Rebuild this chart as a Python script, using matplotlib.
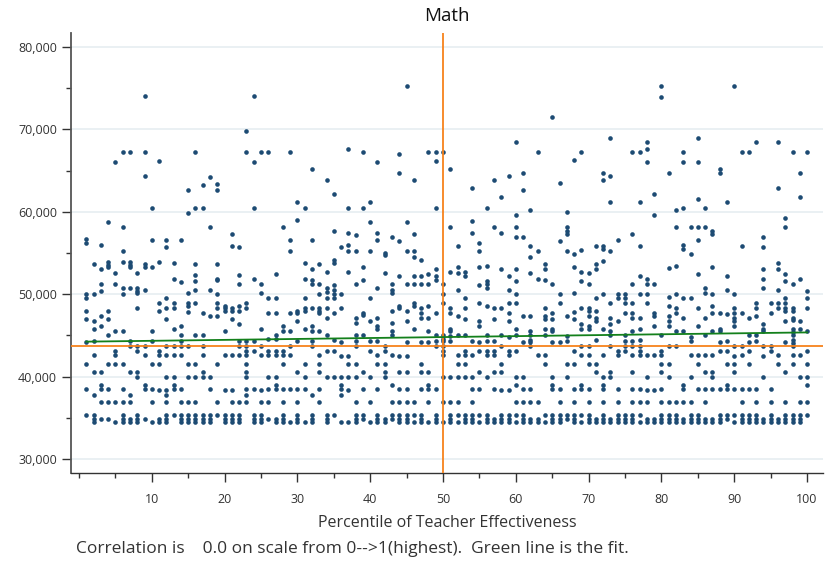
import matplotlib.pyplot as plt
from matplotlib.ticker import FuncFormatter, MultipleLocator
import numpy as np

NAVY = '#1d4b73'; ORANGE = '#f7821b'; GREEN = '#13801b'; GRID = '#e6edf1'; DARK = '#333333'
plt.rcParams['font.family'] = ['Open Sans', 'DejaVu Sans']

# salaries (thousands of $) read for each effectiveness percentile 1..100
percentiles = list(range(1, 101))
salary_k = [
    [56.7, 56.2, 50.0, 49.6, 48.0, 47.0, 44.2, 41.5, 38.5, 35.4],
    [53.7, 50.0, 46.8, 45.8, 44.3, 42.6, 40.6, 37.8, 35.4, 34.9, 34.5],
    [56.0, 53.0, 51.2, 50.4, 47.4, 46.2, 40.6, 39.0, 38.5, 36.9, 34.9],
    [58.7, 53.9, 53.6, 53.3, 48.0, 47.0, 45.0, 41.5, 38.5, 36.9, 34.9],
    [66.0, 52.6, 51.2, 45.6, 43.1, 42.6, 41.5, 36.9, 34.5],
    [67.3, 58.1, 55.2, 53.9, 50.8, 50.0, 45.6, 41.5, 38.5, 36.9, 35.4, 34.9, 34.5],
    [67.3, 53.9, 53.6, 53.3, 50.8, 44.3, 43.7, 40.6, 37.8, 36.9, 34.9, 34.5],
    [52.6, 50.8, 50.4, 50.1, 48.3, 43.7, 43.1, 40.6, 40.0, 35.4, 34.9, 34.5],
    [74.0, 67.3, 64.3, 53.7, 53.3, 50.5, 43.7, 42.6, 39.0, 38.5, 34.9],
    [60.4, 56.6, 53.3, 45.6, 44.3, 41.5, 38.5, 36.9, 34.5],
    [66.1, 53.9, 48.9, 48.0, 43.1, 42.6, 41.5, 38.4, 34.9, 34.5],
    [56.6, 55.7, 49.5, 48.3, 47.0, 43.7, 42.6, 40.0, 38.4, 37.8, 36.9, 35.4, 34.9, 34.5],
    [53.8, 51.9, 48.9, 48.3, 45.8, 43.7, 42.6, 40.0, 39.0, 38.5, 35.4],
    [56.6, 51.5, 46.2, 45.0, 44.3, 43.7, 42.6, 38.5, 36.9, 35.4, 34.9, 34.5],
    [62.6, 59.8, 50.1, 48.9, 48.6, 47.8, 43.7, 41.5, 40.0, 36.9, 35.4, 34.9, 34.5],
    [67.3, 60.4, 53.7, 52.3, 51.6, 50.5, 48.9, 45.0, 41.5, 40.0, 36.9, 35.4, 34.9, 34.5],
    [63.2, 60.4, 47.7, 45.0, 43.7, 42.6, 40.6, 40.0, 35.4, 34.9, 34.5],
    [64.2, 58.1, 50.5, 47.4, 40.0, 38.5, 35.4, 34.9, 34.5],
    [63.4, 62.6, 53.7, 51.9, 51.7, 50.0, 48.9, 48.3, 47.4, 41.5, 36.9, 35.4],
    [48.6, 48.3, 48.0, 45.6, 42.6, 38.4, 35.4, 34.9, 34.5],
    [57.3, 55.9, 48.3, 48.0, 47.0, 42.6, 38.4, 36.9, 35.4, 34.9, 34.5],
    [55.7, 52.3, 51.2, 48.6, 48.0, 46.4, 44.3, 43.7, 42.6, 36.9, 35.4, 34.9, 34.5],
    [69.8, 67.3, 48.9, 48.3, 44.3, 43.7, 43.1, 42.6, 41.5, 40.6, 40.0, 38.5, 37.8, 36.9],
    [74.0, 66.0, 60.4, 51.9, 44.3, 43.1, 38.5, 35.4, 34.9, 34.5],
    [67.3, 51.2, 50.1, 45.8, 43.7, 42.6, 38.4, 36.9, 35.4, 34.9, 34.5],
    [67.3, 49.5, 47.7, 44.6, 43.1, 42.6, 40.0, 38.5, 36.9, 34.9],
    [52.4, 49.5, 47.7, 45.0, 44.6, 43.1, 42.6, 40.0, 39.0, 38.5, 34.9, 34.5],
    [58.1, 46.2, 45.6, 43.1, 42.6, 41.5, 38.5, 36.9, 35.4, 34.9, 34.5],
    [67.3, 56.6, 55.2, 47.7, 45.6, 43.7, 42.6, 38.5, 34.5],
    [61.2, 59.0, 48.0, 47.7, 46.8, 44.3, 40.6, 38.5, 36.9, 35.4, 34.9, 34.5],
    [60.4, 53.8, 51.9, 49.5, 48.3, 48.0, 45.8, 41.5, 40.0, 38.5, 34.5],
    [65.2, 56.6, 53.0, 51.7, 51.2, 48.3, 46.2, 45.6, 44.3, 43.7, 37.8, 35.4, 34.9, 34.5],
    [53.7, 51.2, 50.0, 48.3, 48.0, 47.7, 45.6, 42.6, 41.5, 40.6, 38.5, 36.9],
    [63.8, 52.7, 50.8, 50.3, 49.5, 48.3, 47.1, 45.0, 43.1, 40.0, 35.4, 34.9, 34.5],
    [62.1, 57.7, 54.1, 53.8, 51.1, 50.5, 50.0, 49.5, 47.7, 44.5, 43.1, 40.0, 35.4],
    [55.7, 50.0, 48.3, 44.2, 42.5, 40.0, 39.0, 38.5, 37.8, 34.5],
    [67.6, 60.4, 57.4, 56.0, 55.2, 52.7, 42.5, 41.5, 40.0, 38.4, 34.5],
    [57.2, 55.2, 51.2, 47.1, 46.5, 45.0, 44.3, 43.7, 41.5, 40.0, 36.9, 35.4, 34.9, 34.5],
    [67.3, 60.4, 53.3, 51.7, 47.7, 47.5, 45.0, 40.6, 38.5, 35.4, 34.9],
    [61.2, 58.8, 55.2, 49.5, 46.8, 44.3, 43.1, 40.0, 36.9, 34.5],
    [66.0, 57.4, 56.6, 50.8, 47.1, 46.1, 45.8, 44.3, 42.6, 41.5, 38.5, 35.4, 34.9, 34.5],
    [55.0, 54.8, 52.6, 43.7, 43.1, 41.5, 40.6, 40.0, 34.9, 34.5],
    [56.9, 51.2, 50.5, 50.1, 48.0, 46.5, 45.6, 45.0, 42.6, 39.0, 36.9, 35.4, 34.9],
    [67.0, 64.7, 56.5, 52.2, 48.6, 48.3, 42.5, 40.6, 38.5, 36.9, 35.4, 34.9, 34.5],
    [75.3, 58.8, 55.2, 51.2, 48.0, 46.8, 44.2, 42.5, 40.6, 38.5, 36.9, 35.4, 34.9, 34.5],
    [63.8, 57.3, 55.2, 54.5, 52.2, 51.2, 48.9, 48.6, 45.8, 36.9, 35.4, 34.5],
    [54.1, 52.2, 51.2, 48.3, 47.7, 47.1, 44.2, 41.5, 40.6, 38.5, 35.4, 34.9, 34.5],
    [67.3, 52.4, 51.2, 48.6, 47.1, 45.6, 44.2, 40.6, 39.0, 38.5, 36.9, 34.5],
    [67.3, 66.1, 60.4, 53.0, 52.2, 51.7, 47.7, 45.0, 44.3, 43.7, 38.5, 35.4, 34.9, 34.5],
    [67.3, 51.2, 50.0, 48.9, 45.0, 44.6, 44.3, 43.7, 43.1, 42.6, 40.0, 36.9, 34.5],
    [65.2, 58.1, 52.7, 48.3, 47.7, 45.8, 45.6, 44.9, 44.3, 40.0, 36.9, 35.4, 34.9, 34.5],
    [55.9, 53.3, 52.6, 50.5, 47.4, 45.0, 42.6, 41.5, 40.0, 36.9, 35.4, 34.5],
    [52.7, 52.2, 49.5, 48.3, 47.0, 45.0, 43.1, 42.6, 41.5, 40.0, 35.4, 34.9, 34.5],
    [62.9, 58.9, 57.4, 44.3, 42.6, 40.0, 38.5, 36.9, 35.4, 34.9, 34.5],
    [56.2, 55.2, 53.3, 51.1, 48.9, 46.8, 46.2, 44.2, 43.1, 40.6, 38.5, 35.4, 34.5],
    [60.4, 53.4, 51.6, 51.2, 50.8, 48.6, 45.0, 44.3, 43.1, 42.6, 40.0, 35.4, 34.9, 34.5],
    [63.8, 58.1, 48.3, 47.0, 44.3, 43.1, 42.6, 40.6, 38.5, 34.9, 34.5],
    [61.8, 57.4, 53.0, 48.3, 45.0, 43.7, 41.5, 40.6, 38.4, 35.4, 34.9, 34.5],
    [64.3, 52.2, 50.5, 48.9, 47.7, 46.8, 44.8, 43.1, 42.6, 38.4, 35.4, 34.9, 34.5],
    [68.5, 59.6, 58.1, 56.9, 53.0, 51.6, 50.0, 48.9, 45.8, 45.0, 43.1, 40.0, 39.0, 36.9, 35.4, 34.5],
    [64.7, 62.6, 56.9, 47.4, 44.2, 40.0, 38.5, 36.9, 35.4, 34.9, 34.5],
    [60.2, 55.9, 54.5, 52.6, 47.4, 45.6, 45.0, 44.5, 44.2, 43.7, 38.5, 36.9, 34.9, 34.5],
    [67.3, 55.2, 51.9, 42.6, 36.9, 34.9, 34.5],
    [53.7, 53.0, 51.7, 48.3, 47.4, 47.0, 45.8, 45.0, 42.6, 41.5, 35.4, 34.5],
    [71.5, 51.2, 47.7, 47.0, 45.8, 45.6, 44.2, 40.0, 39.0, 38.5, 35.4, 34.9, 34.5],
    [63.5, 56.5, 50.0, 48.9, 44.2, 38.5, 36.9, 35.4, 34.9, 34.5],
    [60.0, 58.1, 57.7, 57.3, 55.2, 47.4, 44.9, 44.3, 41.5, 40.0, 35.4, 34.9],
    [66.3, 54.9, 53.3, 50.2, 47.8, 47.0, 43.1, 41.5, 38.5, 36.9, 35.4, 34.9, 34.5],
    [67.3, 55.4, 52.7, 51.6, 48.3, 46.4, 45.8, 43.7, 42.6, 39.0, 38.5, 35.4, 34.5],
    [52.6, 51.2, 48.3, 48.0, 47.4, 46.2, 45.8, 43.7, 42.6, 41.5, 38.5, 36.9, 35.4, 34.9, 34.5],
    [55.8, 53.7, 53.0, 49.5, 48.0, 47.1, 46.8, 44.5, 41.5, 40.6, 34.9, 34.5],
    [64.7, 63.8, 55.9, 55.5, 54.0, 50.0, 45.8, 42.6, 40.0, 39.0, 38.5, 36.9, 35.4, 34.9, 34.5],
    [68.9, 64.3, 61.2, 55.2, 48.9, 47.1, 46.4, 45.6, 45.0, 43.7, 40.6, 40.0, 34.9, 34.5],
    [56.6, 50.0, 49.5, 46.8, 43.1, 42.6, 38.5, 36.9, 35.4, 34.9, 34.5],
    [50.0, 49.5, 48.9, 47.7, 45.0, 44.3, 43.7, 43.1, 35.4, 34.9, 34.5],
    [67.3, 57.3, 51.2, 48.9, 47.7, 47.1, 45.6, 44.3, 43.7, 42.6, 40.6, 38.5, 36.9, 35.4, 34.9, 34.5],
    [67.3, 61.2, 55.9, 52.2, 50.0, 47.1, 45.8, 44.5, 43.7, 43.1, 42.6, 38.5, 36.9, 35.4, 34.5],
    [68.5, 67.6, 66.0, 51.8, 51.2, 50.0, 48.9, 42.6, 40.0, 38.4, 36.9, 34.9, 34.5],
    [62.1, 59.6, 51.2, 47.7, 47.4, 46.2, 42.6, 38.4, 34.9, 34.5],
    [75.3, 73.9, 45.1, 43.1, 42.6, 41.5, 40.6, 38.5, 36.9, 35.4, 34.9, 34.5],
    [64.7, 53.2, 49.7, 48.6, 47.4, 46.8, 46.2, 43.7, 41.5, 40.0, 36.9, 35.4, 34.9, 34.5],
    [60.2, 58.1, 53.4, 50.0, 48.3, 47.7, 45.6, 43.7, 36.9, 35.4, 34.9, 34.5],
    [67.3, 66.0, 60.4, 56.0, 55.5, 49.5, 47.1, 45.6, 39.0, 38.5, 36.9, 34.9, 34.5],
    [58.2, 54.9, 49.5, 44.8, 44.3, 42.6, 40.0, 36.9, 35.4, 34.9, 34.5],
    [68.9, 66.0, 61.5, 58.1, 56.6, 52.4, 48.3, 46.2, 42.6, 41.5, 38.5, 35.4, 34.9, 34.5],
    [60.4, 58.1, 50.7, 50.2, 47.1, 45.0, 42.6, 40.6, 38.5, 36.9, 34.9, 34.5],
    [57.7, 57.3, 53.3, 50.0, 48.6, 47.7, 45.6, 42.6, 40.6, 40.0, 38.5, 34.9, 34.5],
    [65.2, 64.7, 47.7, 45.8, 45.6, 44.2, 43.1, 38.5, 35.4, 34.9, 34.5],
    [61.2, 52.2, 50.5, 47.6, 44.3, 43.1, 41.5, 39.0, 38.5, 35.4, 34.9],
    [75.3, 50.0, 48.3, 47.7, 47.1, 46.8, 46.2, 43.7, 42.5, 41.5, 40.6, 38.5, 35.4, 34.5],
    [67.3, 55.9, 47.7, 43.7, 42.6, 38.5, 36.9, 35.4, 34.9, 34.5],
    [67.3, 47.1, 45.0, 44.2, 43.1, 41.5, 38.5, 35.4, 34.9, 34.5],
    [68.5, 48.9, 48.3, 47.4, 45.0, 44.3, 38.5, 36.9, 35.4, 34.9, 34.5],
    [56.9, 55.7, 53.0, 51.9, 50.8, 46.4, 45.8, 45.6, 43.7, 42.5, 40.0, 34.9, 34.5],
    [48.9, 47.7, 43.7, 43.1, 38.5, 36.9, 35.4, 34.9, 34.5],
    [68.5, 62.9, 53.8, 53.0, 50.5, 48.9, 48.3, 42.6, 41.5, 34.9, 34.5],
    [59.2, 58.2, 52.4, 51.6, 49.5, 48.9, 48.3, 48.0, 46.8, 44.2, 40.6, 36.9, 35.4, 34.9, 34.5],
    [67.3, 51.2, 48.3, 48.0, 47.1, 46.9, 45.8, 45.4, 45.0, 44.5, 44.1, 43.7, 42.6, 41.5, 35.4, 34.9, 34.5],
    [64.7, 61.8, 51.9, 46.8, 45.8, 42.6, 40.0, 36.9, 35.4, 34.9, 34.5],
    [67.3, 50.4, 49.5, 48.3, 45.6, 43.1, 41.5, 40.0, 39.0, 36.9, 35.4],
]
mean_salary = 43700          # orange horizontal reference
mid_percentile = 50          # orange vertical reference
fit_pct = [1, 100]           # green fitted line
fit_salary = [44250, 45370]

xs = np.repeat(percentiles, [len(s) for s in salary_k])
ys = np.concatenate([np.array(s) * 1000 for s in salary_k])

fig = plt.figure(figsize=(8.32, 5.66), dpi=100, facecolor='white')
ax = fig.add_axes([0.0853, 0.164, 0.904, 0.778])

ax.scatter(xs, ys, s=11, color=NAVY, linewidths=0, zorder=3)
ax.axhline(mean_salary, color=ORANGE, lw=1.3, zorder=4)
ax.axvline(mid_percentile, color=ORANGE, lw=1.3, zorder=4)
ax.plot(fit_pct, fit_salary, color=GREEN, lw=1.3, zorder=5)

ax.set_xlim(-1.1, 102.2)
ax.set_ylim(28300, 81700)
ax.xaxis.set_minor_locator(MultipleLocator(5))
ax.yaxis.set_major_locator(MultipleLocator(10000))
ax.yaxis.set_minor_locator(MultipleLocator(5000))
ax.yaxis.set_major_formatter(FuncFormatter(lambda v, p: f'{int(v):,}'))
ax.set_xticks([10, 20, 30, 40, 50, 60, 70, 80, 90, 100])
ax.grid(axis='y', which='major', color=GRID, lw=1.2, zorder=0)
ax.set_axisbelow(True)

for s in ('top', 'right'):
    ax.spines[s].set_visible(False)
ax.spines['left'].set_color('#555555'); ax.spines['left'].set_linewidth(1.3)
ax.spines['bottom'].set_color(DARK); ax.spines['bottom'].set_linewidth(1.0)
ax.tick_params(axis='both', which='major', labelsize=9, colors=DARK, length=6.5, width=1)
ax.tick_params(axis='both', which='minor', length=3.6, width=1, colors=DARK)
ax.tick_params(axis='x', which='major', pad=8)
ax.tick_params(axis='y', which='major', pad=3.5)

ax.set_title('Math', fontsize=13.5, color='#111111', pad=8.5)
ax.set_xlabel('Percentile of Teacher Effectiveness', fontsize=11.5, color=DARK, labelpad=6)
fig.text(0.091, 0.030, 'Correlation is    0.0 on scale from 0-->1(highest).  Green line is the fit.',
         fontsize=12.5, color=DARK, ha='left', va='center')

fig.savefig('out.png', dpi=100, facecolor='white')
